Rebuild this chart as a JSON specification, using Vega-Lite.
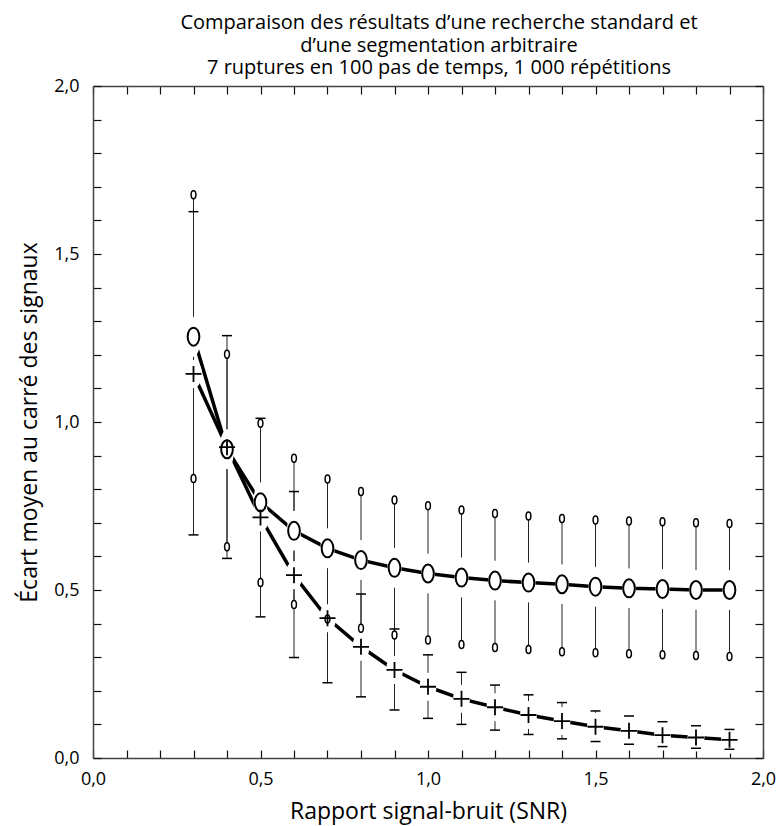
{
  "$schema": "https://vega.github.io/schema/vega-lite/v6.json",
  "width": 670,
  "height": 672,
  "autosize": {"type": "none"},
  "padding": {"left": 93, "top": 86, "right": 21, "bottom": 68},
  "background": "white",
  "title": {
    "text": ["Comparaison des résultats d’une recherche standard et", "d’une segmentation arbitraire", "7 ruptures en 100 pas de temps, 1 000 répétitions"],
    "font": "Open Sans",
    "fontSize": 20,
    "fontWeight": "normal",
    "color": "#000",
    "lineHeight": 22.5,
    "anchor": "middle",
    "dx": 11,
    "offset": -1
  },
  "config": {
    "view": {"stroke": null},
    "axis": {
      "grid": false,
      "domainColor": "#444",
      "domainWidth": 1.5,
      "tickColor": "#111",
      "tickWidth": 1.2,
      "tickSize": -8,
      "labelFont": "Open Sans",
      "labelFontSize": 18,
      "labelColor": "#000",
      "titleFont": "Open Sans",
      "titleFontSize": 23,
      "titleFontWeight": "normal",
      "titleColor": "#000"
    }
  },
  "datasets": {
    "pts": [
      {"x": 0.3, "serie": "O", "moy": 1.254, "bas": 0.832, "haut": 1.676},
      {"x": 0.4, "serie": "O", "moy": 0.919, "bas": 0.629, "haut": 1.202},
      {"x": 0.5, "serie": "O", "moy": 0.761, "bas": 0.522, "haut": 0.996},
      {"x": 0.6, "serie": "O", "moy": 0.676, "bas": 0.457, "haut": 0.892},
      {"x": 0.7, "serie": "O", "moy": 0.624, "bas": 0.414, "haut": 0.830},
      {"x": 0.8, "serie": "O", "moy": 0.589, "bas": 0.386, "haut": 0.793},
      {"x": 0.9, "serie": "O", "moy": 0.566, "bas": 0.366, "haut": 0.768},
      {"x": 1.0, "serie": "O", "moy": 0.549, "bas": 0.351, "haut": 0.751},
      {"x": 1.1, "serie": "O", "moy": 0.537, "bas": 0.338, "haut": 0.738},
      {"x": 1.2, "serie": "O", "moy": 0.528, "bas": 0.329, "haut": 0.728},
      {"x": 1.3, "serie": "O", "moy": 0.522, "bas": 0.323, "haut": 0.720},
      {"x": 1.4, "serie": "O", "moy": 0.517, "bas": 0.316, "haut": 0.713},
      {"x": 1.5, "serie": "O", "moy": 0.510, "bas": 0.313, "haut": 0.708},
      {"x": 1.6, "serie": "O", "moy": 0.505, "bas": 0.310, "haut": 0.705},
      {"x": 1.7, "serie": "O", "moy": 0.503, "bas": 0.307, "haut": 0.703},
      {"x": 1.8, "serie": "O", "moy": 0.500, "bas": 0.305, "haut": 0.700},
      {"x": 1.9, "serie": "O", "moy": 0.500, "bas": 0.302, "haut": 0.698},
      {"x": 0.3, "serie": "P", "moy": 1.143, "bas": 0.664, "haut": 1.626},
      {"x": 0.4, "serie": "P", "moy": 0.925, "bas": 0.594, "haut": 1.257},
      {"x": 0.5, "serie": "P", "moy": 0.716, "bas": 0.420, "haut": 1.011},
      {"x": 0.6, "serie": "P", "moy": 0.544, "bas": 0.299, "haut": 0.793},
      {"x": 0.7, "serie": "P", "moy": 0.416, "bas": 0.224, "haut": 0.610},
      {"x": 0.8, "serie": "P", "moy": 0.331, "bas": 0.182, "haut": 0.488},
      {"x": 0.9, "serie": "P", "moy": 0.262, "bas": 0.143, "haut": 0.384},
      {"x": 1.0, "serie": "P", "moy": 0.212, "bas": 0.118, "haut": 0.307},
      {"x": 1.1, "serie": "P", "moy": 0.176, "bas": 0.100, "haut": 0.255},
      {"x": 1.2, "serie": "P", "moy": 0.151, "bas": 0.083, "haut": 0.217},
      {"x": 1.3, "serie": "P", "moy": 0.128, "bas": 0.070, "haut": 0.188},
      {"x": 1.4, "serie": "P", "moy": 0.110, "bas": 0.057, "haut": 0.165},
      {"x": 1.5, "serie": "P", "moy": 0.093, "bas": 0.049, "haut": 0.140},
      {"x": 1.6, "serie": "P", "moy": 0.081, "bas": 0.041, "haut": 0.125},
      {"x": 1.7, "serie": "P", "moy": 0.068, "bas": 0.034, "haut": 0.108},
      {"x": 1.8, "serie": "P", "moy": 0.061, "bas": 0.029, "haut": 0.096},
      {"x": 1.9, "serie": "P", "moy": 0.054, "bas": 0.026, "haut": 0.085}
    ]
  },
  "data": {"name": "pts"},
  "encoding": {
    "x": {"field": "x", "type": "quantitative", "axis": null, "scale": {"domain": [0, 2], "nice": false, "zero": false}},
    "y": {"field": "moy", "type": "quantitative", "axis": null, "scale": {"domain": [0, 2], "nice": false, "zero": false}}
  },
  "layer": [
    {
      "mark": {"type": "rule", "color": "#222", "strokeWidth": 1},
      "encoding": {
        "x": {"field": "x", "type": "quantitative",
          "axis": {"orient": "bottom", "values": [0,0.1,0.2,0.3,0.4,0.5,0.6,0.7,0.8,0.9,1,1.1,1.2,1.3,1.4,1.5,1.6,1.7,1.8,1.9,2],
            "labelExpr": "abs(datum.value*2 - round(datum.value*2)) < 0.001 ? replace(format(datum.value, '.1f'), '.', ',') : ''",
            "labelPadding": 20, "labelFlush": false, "labelOverlap": false,
            "title": "Rapport signal-bruit (SNR)", "titlePadding": 12}},
        "y": {"field": "bas", "type": "quantitative",
          "axis": {"orient": "left", "values": [0,0.1,0.2,0.3,0.4,0.5,0.6,0.7,0.8,0.9,1,1.1,1.2,1.3,1.4,1.5,1.6,1.7,1.8,1.9,2],
            "labelExpr": "abs(datum.value*2 - round(datum.value*2)) < 0.001 ? replace(format(datum.value, '.1f'), '.', ',') : ''",
            "labelPadding": 22, "labelFlush": false, "labelOverlap": false,
            "title": "Écart moyen au carré des signaux", "titlePadding": 12}},
        "y2": {"field": "haut"}
      }
    },
    {
      "mark": {"type": "point", "opacity": 0},
      "encoding": {
        "x": {"field": "x", "type": "quantitative",
          "axis": {"orient": "top", "values": [0,0.1,0.2,0.3,0.4,0.5,0.6,0.7,0.8,0.9,1,1.1,1.2,1.3,1.4,1.5,1.6,1.7,1.8,1.9,2], "labels": false, "title": null}},
        "y": {"field": "moy", "type": "quantitative",
          "axis": {"orient": "right", "values": [0,0.1,0.2,0.3,0.4,0.5,0.6,0.7,0.8,0.9,1,1.1,1.2,1.3,1.4,1.5,1.6,1.7,1.8,1.9,2], "labels": false, "title": null}}
      }
    },
    {
      "transform": [{"filter": "datum.serie == 'O'"}],
      "mark": {"type": "line", "color": "#000", "strokeWidth": 3.5},
      "encoding": {}
    },
    {
      "transform": [{"filter": "datum.serie == 'P'"}],
      "mark": {"type": "line", "color": "#000", "strokeWidth": 3.5},
      "encoding": {}
    },
    {
      "transform": [{"filter": "datum.serie == 'O'"}],
      "mark": {"type": "point", "filled": true, "color": "white", "opacity": 1, "strokeWidth": 0,
        "shape": "M -0.35 0 A 0.35 1 0 1 1 0.35 0 A 0.35 1 0 1 1 -0.35 0 Z", "size": 1600},
      "encoding": {}
    },
    {
      "transform": [{"filter": "datum.serie == 'P'"}],
      "mark": {"type": "point", "filled": true, "color": "white", "opacity": 1, "strokeWidth": 0,
        "shape": "M -0.6 0 A 0.6 1 0 1 1 0.6 0 A 0.6 1 0 1 1 -0.6 0 Z", "size": 784},
      "encoding": {}
    },
    {
      "transform": [{"filter": "datum.serie == 'O'"}],
      "mark": {"type": "point", "filled": false, "fill": "white", "stroke": "#000", "opacity": 1, "strokeWidth": 1.5,
        "shape": "M -0.6 0 A 0.6 1 0 1 1 0.6 0 A 0.6 1 0 1 1 -0.6 0 Z", "size": 64},
      "encoding": {"y": {"field": "bas", "type": "quantitative", "axis": null}}
    },
    {
      "transform": [{"filter": "datum.serie == 'O'"}],
      "mark": {"type": "point", "filled": false, "fill": "white", "stroke": "#000", "opacity": 1, "strokeWidth": 1.5,
        "shape": "M -0.6 0 A 0.6 1 0 1 1 0.6 0 A 0.6 1 0 1 1 -0.6 0 Z", "size": 64},
      "encoding": {"y": {"field": "haut", "type": "quantitative", "axis": null}}
    },
    {
      "transform": [{"filter": "datum.serie == 'P'"}],
      "mark": {"type": "point", "filled": false, "stroke": "#000", "opacity": 1, "strokeWidth": 1.5,
        "shape": "M -1 0 L 1 0", "size": 100},
      "encoding": {"y": {"field": "bas", "type": "quantitative", "axis": null}}
    },
    {
      "transform": [{"filter": "datum.serie == 'P'"}],
      "mark": {"type": "point", "filled": false, "stroke": "#000", "opacity": 1, "strokeWidth": 1.5,
        "shape": "M -1 0 L 1 0", "size": 100},
      "encoding": {"y": {"field": "haut", "type": "quantitative", "axis": null}}
    },
    {
      "transform": [{"filter": "datum.serie == 'O'"}],
      "mark": {"type": "point", "filled": false, "fill": "white", "stroke": "#000", "opacity": 1, "strokeWidth": 2,
        "shape": "M -0.65 0 A 0.65 1 0 1 1 0.65 0 A 0.65 1 0 1 1 -0.65 0 Z", "size": 324},
      "encoding": {}
    },
    {
      "transform": [{"filter": "datum.serie == 'P'"}],
      "mark": {"type": "point", "filled": false, "stroke": "#000", "opacity": 1, "strokeWidth": 1.8,
        "shape": "M -1 0 L 1 0 M 0 -1 L 0 1", "size": 256},
      "encoding": {}
    }
  ]
}
